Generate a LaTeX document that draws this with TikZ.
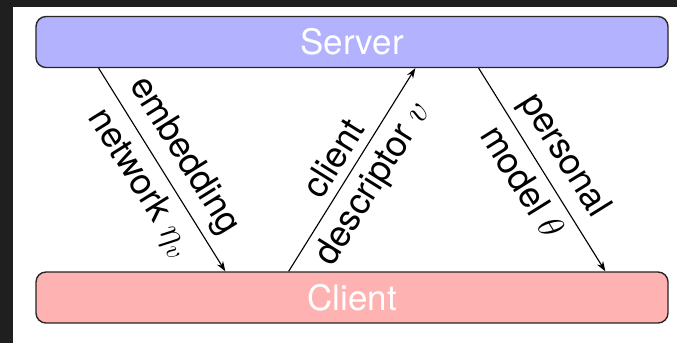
\documentclass[tikz,border=0pt]{standalone}
\usepackage{fontspec}
\setmainfont{TeX Gyre Heros}
\usetikzlibrary{arrows.meta,calc}

\begin{document}
\begin{tikzpicture}[x=0.4pt,y=-0.4pt,
  party/.style={draw=black!85,line width=0.55pt,rounded corners=4pt,
    minimum width=252.8pt,minimum height=20.4pt,text=white,
    font=\fontsize{14}{16}\selectfont},
  msg/.style={line width=0.45pt,-{Stealth[length=4pt,width=2.8pt]}},
  lbl/.style={sloped,font=\fontsize{14.4}{16}\selectfont}]
\useasboundingbox (0,0) rectangle (677,343);
\fill[black!88] (0,0) rectangle (677,343);
\fill[white] (13,7) rectangle (677,343);

\node[party,fill=blue!30] (server) at (352,42) {Server};
\node[party,fill=red!30] (client) at (352,297.5) {Client};

% messages between server and client
\draw[msg] ($(server.south west)!0.1!(server.south east)$) --
  node[lbl,above] {embedding} node[lbl,below] {network $\eta_v$}
  ($(client.north west)!0.3!(client.north east)$);
\draw[msg] ($(client.north west)!0.4!(client.north east)$) --
  node[lbl,above] {client} node[lbl,below] {descriptor $v$}
  ($(server.south west)!0.6!(server.south east)$);
\draw[msg] ($(server.south west)!0.7!(server.south east)$) --
  node[lbl,above] {personal} node[lbl,below] {model $\theta$}
  ($(client.north west)!0.9!(client.north east)$);
\end{tikzpicture}
\end{document}
